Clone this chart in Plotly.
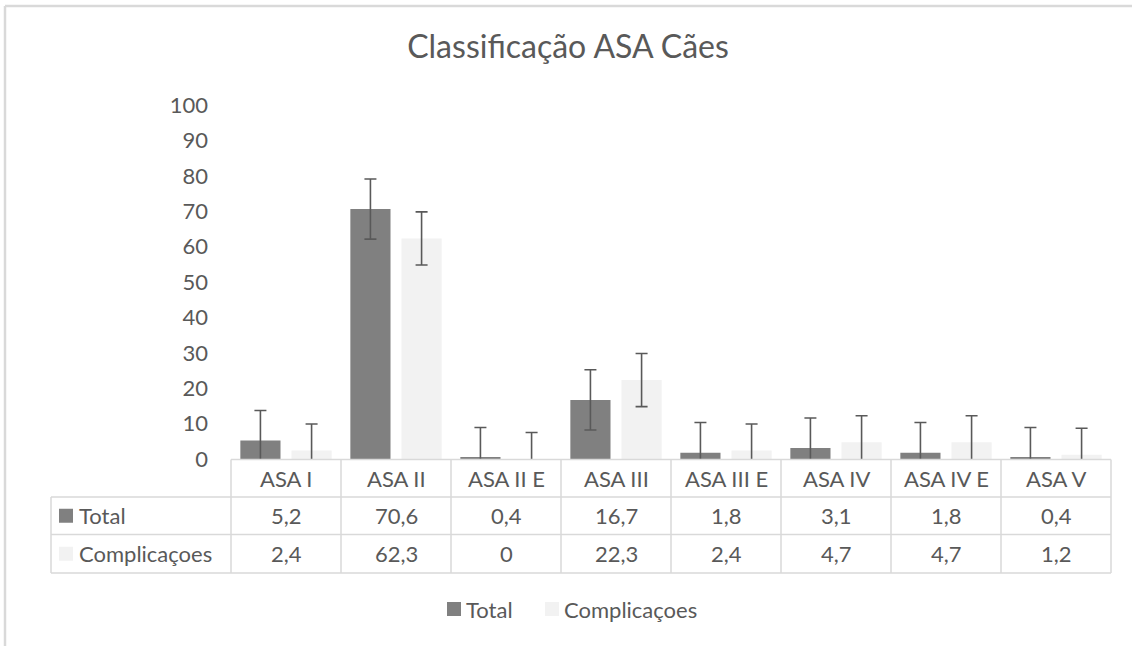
import plotly.graph_objects as go

categories = ["ASA I", "ASA II", "ASA II E", "ASA III", "ASA III E", "ASA IV", "ASA IV E", "ASA V"]
total = [5.2, 70.6, 0.4, 16.7, 1.8, 3.1, 1.8, 0.4]
complicacoes = [2.4, 62.3, 0, 22.3, 2.4, 4.7, 4.7, 1.2]
err_total = [8.5, 8.5, 8.5, 8.5, 8.5, 8.5, 8.5, 8.5]
err_comp = [7.5, 7.5, 7.5, 7.5, 7.5, 7.5, 7.5, 7.5]
series_names = ["Total", "Complicaçoes"]
y_ticks = [0, 10, 20, 30, 40, 50, 60, 70, 80, 90, 100]

TXT = "#595959"
GRID = "#d9d9d9"
C_TOTAL = "#808080"
C_COMP = "#f2f2f2"
FONT = "Lato"
FS = 22

W, H = 1132, 646
L, R, T, B = 231, 21, 105, 187
pw, ph = W - L - R, H - T - B


def px_x(x):
    return (x - L) / pw


def px_y(y):
    return (H - B - y) / ph


fig = go.Figure()
fig.add_trace(go.Bar(
    x=categories, y=total, name=series_names[0], marker_color=C_TOTAL, marker_line_width=0,
    error_y=dict(type="data", array=err_total, visible=True, color=TXT, thickness=1.6, width=6),
))
fig.add_trace(go.Bar(
    x=categories, y=complicacoes, name=series_names[1], marker_color=C_COMP, marker_line_width=0,
    error_y=dict(type="data", array=err_comp, visible=True, color=TXT, thickness=1.6, width=6),
))

n = len(categories)
shapes = []
line = dict(color=GRID, width=1.5)
# table geometry (pixels)
y_top, y_r1, y_r2, y_bot = 459.5, 497, 534.5, 573
x_lab = 51
shapes.append(dict(type="line", xref="paper", yref="paper", x0=0, x1=1, y0=px_y(y_top), y1=px_y(y_top), line=line))
for yy in (y_r1, y_r2, y_bot):
    shapes.append(dict(type="line", xref="paper", yref="paper", x0=px_x(x_lab), x1=1, y0=px_y(yy), y1=px_y(yy), line=line))
shapes.append(dict(type="line", xref="paper", yref="paper", x0=px_x(x_lab), x1=px_x(x_lab), y0=px_y(y_r1), y1=px_y(y_bot), line=line))
for k in range(n + 1):
    shapes.append(dict(type="line", xref="paper", yref="paper", x0=k / n, x1=k / n, y0=px_y(y_top), y1=px_y(y_bot), line=line))
# chart border (left + top)
shapes.append(dict(type="line", xref="paper", yref="paper", x0=px_x(5), x1=px_x(5), y0=px_y(6), y1=px_y(H + 5), line=dict(color=GRID, width=2.5)))
shapes.append(dict(type="line", xref="paper", yref="paper", x0=px_x(5), x1=px_x(W + 5), y0=px_y(6), y1=px_y(6), line=dict(color=GRID, width=2.5)))

annotations = []
fnt = dict(family=FONT, size=FS, color=TXT)


def fmt(v):
    return ("%g" % v).replace(".", ",")


def key(x0, yc, col):
    shapes.append(dict(type="rect", xref="paper", yref="paper", x0=px_x(x0), x1=px_x(x0 + 14), y0=px_y(yc - 7), y1=px_y(yc + 7),
                       fillcolor=col, line=dict(width=0)))


for i, c in enumerate(categories):
    annotations.append(dict(x=(i + 0.5) / n, y=px_y((y_top + y_r1) / 2), xref="paper", yref="paper", text=c,
                            showarrow=False, font=fnt, xanchor="center", yanchor="middle"))
    annotations.append(dict(x=(i + 0.5) / n, y=px_y((y_r1 + y_r2) / 2), xref="paper", yref="paper", text=fmt(total[i]),
                            showarrow=False, font=fnt, xanchor="center", yanchor="middle"))
    annotations.append(dict(x=(i + 0.5) / n, y=px_y((y_r2 + y_bot) / 2), xref="paper", yref="paper", text=fmt(complicacoes[i]),
                            showarrow=False, font=fnt, xanchor="center", yanchor="middle"))
for name, yy0, yy1, col in ((series_names[0], y_r1, y_r2, C_TOTAL), (series_names[1], y_r2, y_bot, C_COMP)):
    yc = (yy0 + yy1) / 2
    key(59, yc, col)
    annotations.append(dict(x=px_x(77), y=px_y(yc), xref="paper", yref="paper", text=name,
                            showarrow=False, font=fnt, xanchor="left", yanchor="middle"))

# bottom legend (drawn manually to match spacing)
leg_y = 609
for name, x0, col in ((series_names[0], 447, C_TOTAL), (series_names[1], 545, C_COMP)):
    key(x0, leg_y, col)
    annotations.append(dict(x=px_x(x0 + 17), y=px_y(leg_y), xref="paper", yref="paper", text=name,
                            showarrow=False, font=fnt, xanchor="left", yanchor="middle"))

fig.update_layout(
    width=W, height=H,
    margin=dict(l=L, r=R, t=T, b=B),
    paper_bgcolor="white", plot_bgcolor="white",
    font=dict(family=FONT, size=FS, color=TXT),
    title=dict(text="Classificação ASA Cães", x=568 / W, xref="container", xanchor="center",
               y=1 - 47 / H, yref="container", yanchor="middle",
               font=dict(family=FONT, size=32, color=TXT)),
    barmode="group", bargap=0.07, bargroupgap=0.215,
    showlegend=False,
    xaxis=dict(showticklabels=False, showgrid=False, zeroline=False, showline=False, ticks="", range=[-0.5, n - 0.5]),
    yaxis=dict(range=[0, 100], tickvals=y_ticks, showgrid=False, zeroline=False, showline=False, ticks="",
               ticklabelstandoff=22, tickfont=dict(family=FONT, size=FS, color=TXT)),
    shapes=shapes, annotations=annotations,
)

fig.write_html("out.html", config={"displayModeBar": False},
               post_script="document.body.style.margin='0';")
